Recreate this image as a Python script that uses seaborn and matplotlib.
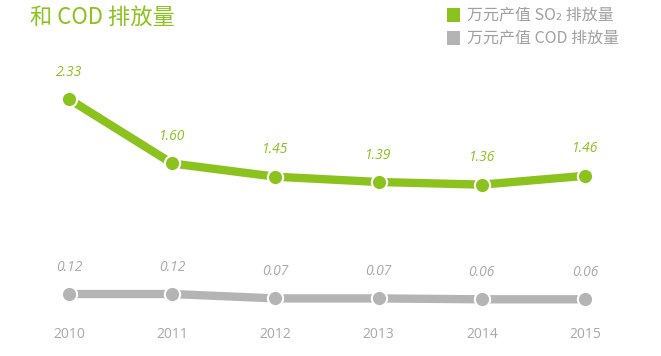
import matplotlib
matplotlib.use("Agg")
import matplotlib.pyplot as plt
from matplotlib.patches import Rectangle
import seaborn as sns
import pandas as pd

years = [2010, 2011, 2012, 2013, 2014, 2015]
so2_per_output = [2.33, 1.60, 1.45, 1.39, 1.36, 1.46]
cod_per_output = [0.12, 0.12, 0.07, 0.07, 0.06, 0.06]
title_text = "和 COD 排放量"
legend_labels = ["万元产值 SO₂ 排放量", "万元产值 COD 排放量"]

GREEN = "#8cc21e"
GREY = "#b4b4b4"
LABEL_GREY = "#a8a8a8"
FONTS = ["Noto Sans CJK SC", "DejaVu Sans"]
LATIN = ["Open Sans", "DejaVu Sans"]

sns.set_theme(style="white")
plt.rcParams["font.family"] = FONTS

df = pd.DataFrame({"year": years, "so2": so2_per_output, "cod": cod_per_output})

fig = plt.figure(figsize=(6.61, 3.56), dpi=100)
ax = fig.add_axes([0.0263, 0.1444, 0.9368, 0.6194])

for col, color in (("so2", GREEN), ("cod", GREY)):
    sns.lineplot(data=df, x="year", y=col, ax=ax, color=color, linewidth=6,
                 marker="o", markersize=11, markeredgecolor="white",
                 markeredgewidth=1.5, solid_capstyle="butt", zorder=3)
    for x, v in zip(df["year"], df[col]):
        ax.annotate(f"{v:.2f}", (x, v), xytext=(0, 14), textcoords="offset points",
                    ha="center", va="bottom", fontsize=10, style="italic",
                    color=color if col == "so2" else LABEL_GREY, family=LATIN)

ax.set_xlim(2009.5, 2015.5)
ax.set_ylim(0, 2.5)
ax.set_xticks(years)
ax.set_xticklabels([str(y) for y in years], fontsize=10, color=LABEL_GREY,
                   family=LATIN)
ax.tick_params(axis="x", length=0, pad=16)
ax.set_yticks([])
ax.set_xlabel("")
ax.set_ylabel("")
sns.despine(ax=ax, left=True, bottom=True)

fig.text(30 / 661, 1 - 18 / 356, title_text, color=GREEN, fontsize=16,
         ha="left", va="center", family=FONTS)

for i, (label, color) in enumerate(zip(legend_labels, (GREEN, GREY))):
    yc = 15 + 23 * i
    fig.patches.append(Rectangle((447 / 661, 1 - (yc + 6.5) / 356), 13 / 661, 13 / 356,
                                 transform=fig.transFigure, facecolor=color,
                                 edgecolor="none"))
    fig.text(467 / 661, 1 - yc / 356, label, color="#a0a0a0", fontsize=11.5,
             ha="left", va="center", family=FONTS)

fig.savefig("out.png", dpi=100, facecolor="white")
